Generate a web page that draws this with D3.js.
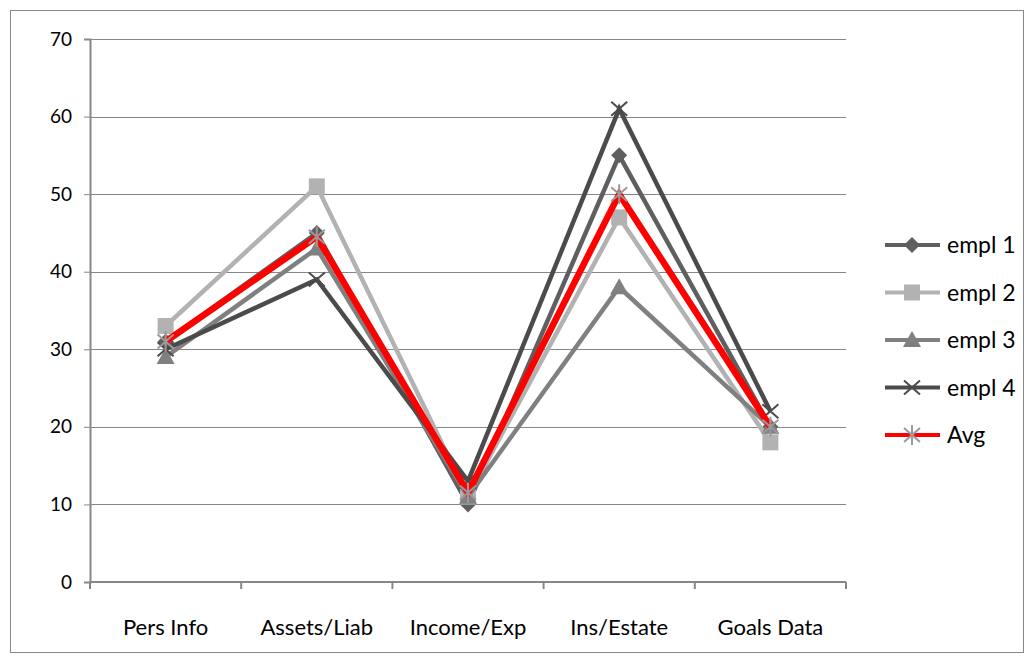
<!DOCTYPE html>
<html>
<head>
<meta charset="utf-8">
<script src="https://cdn.jsdelivr.net/npm/d3@7"></script>
<style>
  html, body { margin: 0; padding: 0; background: #fff; }
  svg { display: block; font-family: Lato, "Open Sans", sans-serif; }
</style>
</head>
<body>
<svg id="chart" width="1034" height="663"></svg>
<script>
// Categories along the x axis
const categories = ["Pers Info", "Assets/Liab", "Income/Exp", "Ins/Estate", "Goals Data"];

// Scores per employee and the average
const empl1 = [31, 45, 10, 55, 20];
const empl2 = [33, 51, 11, 47, 18];
const empl3 = [29, 43, 11, 38, 20];
const empl4 = [30, 39, 13, 61, 22];
const avg   = [31, 44.5, 11.5, 50, 20];

const seriesNames = ["empl 1", "empl 2", "empl 3", "empl 4", "Avg"];
const yTicks = [0, 10, 20, 30, 40, 50, 60, 70];

const series = [
  { name: seriesNames[0], values: empl1, color: "#5f5f5f", marker: "diamond", mcolor: "#5f5f5f", width: 4.5 },
  { name: seriesNames[1], values: empl2, color: "#b2b2b2", marker: "square",  mcolor: "#b2b2b2", width: 4.5 },
  { name: seriesNames[2], values: empl3, color: "#808080", marker: "triangle", mcolor: "#808080", width: 4.5 },
  { name: seriesNames[3], values: empl4, color: "#4b4b4b", marker: "x",       mcolor: "#4b4b4b", width: 4.5 },
  { name: seriesNames[4], values: avg,   color: "#ff0000", marker: "star",    mcolor: "#9a9a9a", width: 6.5 }
];

const svg = d3.select("#chart");

// Chart frame
svg.append("rect")
  .attr("x", 10.5).attr("y", 10.5)
  .attr("width", 1013).attr("height", 642)
  .attr("fill", "#fff").attr("stroke", "#888").attr("stroke-width", 1);

const plot = { left: 90, right: 846, top: 39, bottom: 582 };

const x = d3.scaleBand().domain(categories).range([plot.left, plot.right]);
const y = d3.scaleLinear().domain([0, 70]).range([plot.bottom, plot.top]);
const cx = c => x(c) + x.bandwidth() / 2;

// Horizontal gridlines
svg.append("g")
  .selectAll("line")
  .data(yTicks.filter(t => t > 0))
  .join("line")
  .attr("x1", plot.left).attr("x2", plot.right)
  .attr("y1", d => Math.round(y(d)) + 0.5).attr("y2", d => Math.round(y(d)) + 0.5)
  .attr("stroke", "#878787").attr("stroke-width", 1);

// Y axis
const yAxis = svg.append("g")
  .attr("transform", `translate(${plot.left},0)`)
  .call(d3.axisLeft(y).tickValues(yTicks).tickSize(6).tickPadding(12).tickFormat(d3.format("d")));
yAxis.select(".domain").attr("stroke", "#878787").attr("stroke-width", 2);
yAxis.selectAll(".tick line").attr("stroke", "#878787").attr("stroke-width", 1);
yAxis.selectAll(".tick text")
  .attr("fill", "#000").style("font-size", "19px").style("font-family", "Lato, sans-serif");

// X axis with ticks between categories
const xAxis = svg.append("g")
  .attr("transform", `translate(0,${plot.bottom})`);
xAxis.append("line")
  .attr("x1", plot.left).attr("x2", plot.right)
  .attr("y1", 0).attr("y2", 0)
  .attr("stroke", "#878787").attr("stroke-width", 2);
const boundaries = categories.map(c => x(c)).concat([x(categories[categories.length - 1]) + x.bandwidth()]);
xAxis.selectAll("line.tick")
  .data(boundaries)
  .join("line")
  .attr("class", "tick")
  .attr("x1", d => d).attr("x2", d => d)
  .attr("y1", 0).attr("y2", 7)
  .attr("stroke", "#878787").attr("stroke-width", 2);
xAxis.selectAll("text")
  .data(categories)
  .join("text")
  .attr("x", d => cx(d))
  .attr("y", 53)
  .attr("text-anchor", "middle")
  .style("font-size", "22px")
  .attr("fill", "#000")
  .text(d => d);

// Marker shapes
function drawMarker(g, type, color, px, py) {
  if (type === "diamond") {
    g.append("path")
      .attr("d", `M${px},${py - 8}L${px + 8},${py}L${px},${py + 8}L${px - 8},${py}Z`)
      .attr("fill", color);
  } else if (type === "square") {
    g.append("rect")
      .attr("x", px - 8).attr("y", py - 8).attr("width", 16).attr("height", 16)
      .attr("fill", color);
  } else if (type === "triangle") {
    g.append("path")
      .attr("d", `M${px},${py - 9}L${px + 9},${py + 7}L${px - 9},${py + 7}Z`)
      .attr("fill", color);
  } else if (type === "x") {
    g.append("path")
      .attr("d", `M${px - 8},${py - 7}L${px + 8},${py + 7}M${px - 8},${py + 7}L${px + 8},${py - 7}`)
      .attr("stroke", color).attr("stroke-width", 2).attr("fill", "none");
  } else if (type === "star") {
    g.append("path")
      .attr("d", `M${px - 8},${py - 7}L${px + 8},${py + 7}M${px - 8},${py + 7}L${px + 8},${py - 7}M${px},${py - 10}L${px},${py + 10}`)
      .attr("stroke", color).attr("stroke-width", 2).attr("fill", "none");
  }
}

// Series lines with markers
const line = d3.line()
  .x((d, i) => cx(categories[i]))
  .y(d => y(d));

series.forEach(s => {
  const g = svg.append("g");
  g.append("path")
    .datum(s.values)
    .attr("d", line)
    .attr("fill", "none")
    .attr("stroke", s.color)
    .attr("stroke-width", s.width)
    .attr("stroke-linejoin", "miter")
    .attr("stroke-linecap", "butt");
  s.values.forEach((v, i) => drawMarker(g, s.marker, s.mcolor, cx(categories[i]), y(v)));
});

// Legend
const legend = svg.append("g");
series.forEach((s, i) => {
  const ly = 245 + i * 47.5;
  const g = legend.append("g");
  g.append("line")
    .attr("x1", 885).attr("x2", 940)
    .attr("y1", ly).attr("y2", ly)
    .attr("stroke", s.color).attr("stroke-width", 4);
  drawMarker(g, s.marker, s.mcolor, 912, ly);
  g.append("text")
    .attr("x", 947).attr("y", ly + 8)
    .style("font-size", "23px")
    .attr("fill", "#000")
    .text(s.name);
});
</script>
</body>
</html>
